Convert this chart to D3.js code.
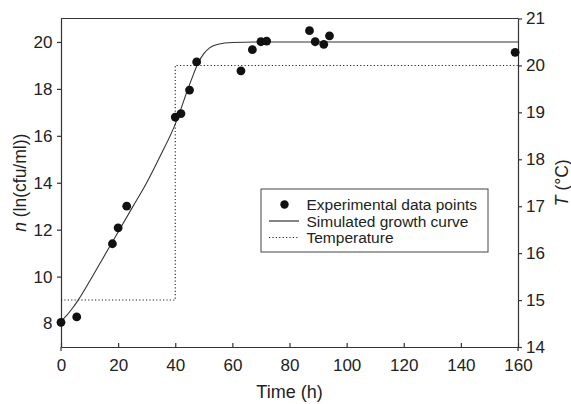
<!DOCTYPE html>
<html>
<head>
<meta charset="utf-8">
<script src="https://cdn.jsdelivr.net/npm/d3@7"></script>
<style>
  body { margin: 0; background: #fff; }
  text { font-family: "Liberation Sans", Arial, sans-serif; fill: #222; }
</style>
</head>
<body>
<div id="chart"></div>
<script>
// experimental points (time h, ln cfu/ml)
const obsTime = [0, 5.5, 18, 20, 23, 40, 42, 45, 47.5, 63, 67, 70, 72, 87, 89, 92, 94, 159];
const obsN = [8.05, 8.28, 11.4, 12.08, 13.0, 16.8, 16.95, 17.95, 19.15, 18.77, 19.67, 20.01, 20.04, 20.48, 20.01, 19.9, 20.26, 19.56];

// simulated growth curve
const simTime = [0, 2, 4, 6, 10, 15, 20, 25, 30, 35, 40, 42, 44, 46, 48, 50, 52, 55, 60, 70, 160];
const simN = [8.1, 8.35, 8.65, 9.0, 9.8, 10.85, 11.9, 12.95, 14.0, 15.2, 16.5, 17.15, 17.85, 18.5, 19.1, 19.5, 19.75, 19.9, 19.98, 20.0, 20.0];

// temperature profile
const tempTime = [0, 40, 40, 160];
const tempC = [15, 15, 20, 20];

const xTicks = [0, 20, 40, 60, 80, 100, 120, 140, 160];
const nTicks = [8, 10, 12, 14, 16, 18, 20];
const tTicks = [14, 15, 16, 17, 18, 19, 20, 21];

const width = 571, height = 404;
const plotL = 61, plotR = 518, plotT = 18.5, plotB = 347;

const svg = d3.select("#chart").append("svg")
    .attr("width", width)
    .attr("height", height);

const x = d3.scaleLinear().domain([0, 160]).range([plotL, plotR]);
const yN = d3.scaleLinear().domain([7, 21]).range([plotB, plotT]);
const yT = d3.scaleLinear().domain([14, 21]).range([plotB, plotT]);

const axisColor = "#333";
const fmt = d3.format("d");

// frame top line
svg.append("line")
    .attr("x1", plotL).attr("x2", plotR)
    .attr("y1", plotT).attr("y2", plotT)
    .attr("stroke", axisColor).attr("stroke-width", 1.2);

// bottom axis, ticks inward
const gx = svg.append("g")
    .attr("transform", `translate(0,${plotB})`)
    .call(d3.axisBottom(x).tickValues(xTicks).tickFormat(fmt).tickSize(-4).tickPadding(12).tickSizeOuter(0));

// left axis
const gl = svg.append("g")
    .attr("transform", `translate(${plotL},0)`)
    .call(d3.axisLeft(yN).tickValues(nTicks).tickFormat(fmt).tickSize(4).tickPadding(4.5).tickSizeOuter(0));

// right axis
const gr = svg.append("g")
    .attr("transform", `translate(${plotR},0)`)
    .call(d3.axisRight(yT).tickValues(tTicks).tickFormat(fmt).tickSize(4).tickPadding(4).tickSizeOuter(0));

[gx, gl, gr].forEach(g => {
    g.selectAll("path, line").attr("stroke", axisColor).attr("stroke-width", 1.2);
    g.selectAll("text").attr("font-size", 17).attr("fill", "#222")
        .attr("font-family", "Liberation Sans, Arial, sans-serif");
});

// vertical axes run a little past the bottom line
[plotL, plotR].forEach(px => {
    svg.append("line")
        .attr("x1", px).attr("x2", px)
        .attr("y1", plotB).attr("y2", plotB + 4)
        .attr("stroke", axisColor).attr("stroke-width", 1.2);
});

// temperature (dotted)
const tempLine = d3.line()
    .x((d, i) => x(tempTime[i]))
    .y((d, i) => yT(tempC[i]));
svg.append("path")
    .attr("d", tempLine(tempC))
    .attr("fill", "none")
    .attr("stroke", "#222")
    .attr("stroke-width", 1.1)
    .attr("stroke-dasharray", "1.2,2.2");

// simulated curve
const simLine = d3.line()
    .x((d, i) => x(simTime[i]))
    .y((d, i) => yN(simN[i]))
    .curve(d3.curveMonotoneX);
svg.append("path")
    .attr("d", simLine(simN))
    .attr("fill", "none")
    .attr("stroke", "#333")
    .attr("stroke-width", 1.1);

// points
svg.selectAll("circle.obs")
    .data(obsN)
    .enter().append("circle")
    .attr("class", "obs")
    .attr("cx", (d, i) => x(obsTime[i]))
    .attr("cy", d => yN(d))
    .attr("r", 4.4)
    .attr("fill", "#111");

// axis titles
svg.append("text")
    .attr("x", (plotL + plotR) / 2)
    .attr("y", 398)
    .attr("text-anchor", "middle")
    .attr("font-size", 18)
    .text("Time (h)");

const lt = svg.append("text")
    .attr("transform", `translate(26,${(plotT + plotB) / 2}) rotate(-90)`)
    .attr("text-anchor", "middle")
    .attr("font-size", 17.5);
lt.append("tspan").attr("font-style", "italic").text("n");
lt.append("tspan").text(" (ln(cfu/ml))");

const rt = svg.append("text")
    .attr("transform", `translate(568,${(plotT + plotB) / 2}) rotate(-90)`)
    .attr("text-anchor", "middle")
    .attr("font-size", 17.5);
rt.append("tspan").attr("font-style", "italic").text("T");
rt.append("tspan").text(" (°C)");

// legend
const legend = svg.append("g");
legend.append("rect")
    .attr("x", 261).attr("y", 189)
    .attr("width", 227).attr("height", 63)
    .attr("fill", "#fff")
    .attr("stroke", "#444").attr("stroke-width", 1);

const legendLabels = ["Experimental data points", "Simulated growth curve", "Temperature"];
const rowY = [204.5, 221, 237.5];

legend.append("circle").attr("cx", 284.5).attr("cy", rowY[0]).attr("r", 4.2).attr("fill", "#111");
legend.append("line")
    .attr("x1", 269).attr("x2", 299).attr("y1", rowY[1]).attr("y2", rowY[1])
    .attr("stroke", "#222").attr("stroke-width", 1.1);
legend.append("line")
    .attr("x1", 269).attr("x2", 299).attr("y1", rowY[2]).attr("y2", rowY[2])
    .attr("stroke", "#222").attr("stroke-width", 1.1)
    .attr("stroke-dasharray", "1.2,2.2");

legend.selectAll("text.lab")
    .data(legendLabels)
    .enter().append("text")
    .attr("class", "lab")
    .attr("x", 306.5)
    .attr("y", (d, i) => rowY[i] + 5.5)
    .attr("font-size", 15.5)
    .text(d => d);
</script>
</body>
</html>
